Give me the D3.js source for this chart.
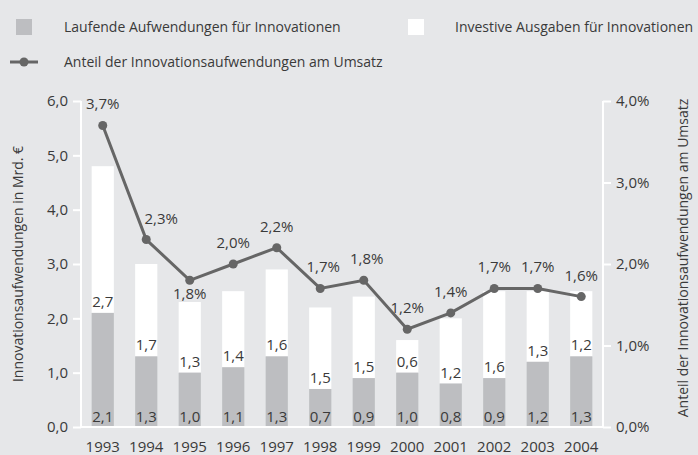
<!DOCTYPE html>
<html><head><meta charset="utf-8">
<script src="https://cdn.jsdelivr.net/npm/d3@7"></script>
<style>
html,body{margin:0;padding:0;background:#e6e7e9;}
text{font-family:"Open Sans",sans-serif;fill:#3a3a3a;}
</style></head>
<body><svg id="c" width="698" height="455"></svg>
<script>
const years = ["1993","1994","1995","1996","1997","1998","1999","2000","2001","2002","2003","2004"];
const laufende = [2.1,1.3,1.0,1.1,1.3,0.7,0.9,1.0,0.8,0.9,1.2,1.3];
const investive = [2.7,1.7,1.3,1.4,1.6,1.5,1.5,0.6,1.2,1.6,1.3,1.2];
const anteil = [3.7,2.3,1.8,2.0,2.2,1.7,1.8,1.2,1.4,1.7,1.7,1.6];
const leftTicks = [0,1,2,3,4,5,6];
const rightTicks = [0,1,2,3,4];
const labelBelow = ["1995"];

const fmt1 = v => v.toFixed(1).replace(".", ",");
const svg = d3.select("#c");
const W = 698, H = 455;
const NF = 15;
const labelShift = {"1994": 15, "1998": 3, "1999": 3};
svg.append("rect").attr("width",W).attr("height",H).attr("fill","#e6e7e9");

const x = d3.scaleBand().domain(years).range([81,603]).paddingInner(0.49).paddingOuter(0.245);
const y = d3.scaleLinear().domain([0,6]).range([427,101]);
const y2 = d3.scaleLinear().domain([0,4]).range([427,101]);

// bars
const g = svg.append("g");
years.forEach((yr,i)=>{
  const total = laufende[i]+investive[i];
  g.append("rect").attr("x",x(yr)).attr("width",x.bandwidth())
    .attr("y",y(total)).attr("height",y(laufende[i])-y(total)).attr("fill","#ffffff");
  g.append("rect").attr("x",x(yr)).attr("width",x.bandwidth())
    .attr("y",y(laufende[i])).attr("height",y(0)-y(laufende[i])).attr("fill","#bdbec1");
  g.append("text").attr("x",x(yr)+x.bandwidth()/2).attr("y",y(0)-5)
    .attr("text-anchor","middle").attr("font-size",NF).text(fmt1(laufende[i]));
  g.append("text").attr("x",x(yr)+x.bandwidth()/2).attr("y",y(laufende[i])-6)
    .attr("text-anchor","middle").attr("font-size",NF).text(fmt1(investive[i]));
});

// axes
const axL = svg.append("g").attr("transform","translate(81,0)")
  .call(d3.axisLeft(y).tickValues(leftTicks).tickFormat(fmt1).tickSize(8).tickPadding(5));
const axR = svg.append("g").attr("transform","translate(603,0)")
  .call(d3.axisRight(y2).tickValues(rightTicks).tickFormat(v=>fmt1(v)+"%").tickSize(8).tickPadding(5));
[axL,axR].forEach(a=>{
  a.select(".domain").remove();
  a.selectAll(".tick line").attr("stroke","#ffffff").attr("stroke-width",2);
  a.selectAll(".tick text").attr("font-size",NF).attr("fill","#3a3a3a").attr("font-family","Open Sans, sans-serif");
});
svg.append("line").attr("x1",81).attr("x2",81).attr("y1",101).attr("y2",428).attr("stroke","#fff").attr("stroke-width",2);
svg.append("line").attr("x1",603).attr("x2",603).attr("y1",101).attr("y2",428).attr("stroke","#fff").attr("stroke-width",2);
svg.append("line").attr("x1",80).attr("x2",604).attr("y1",427).attr("y2",427).attr("stroke","#fff").attr("stroke-width",2);

// x labels
const axB = svg.append("g").attr("transform","translate(0,427)")
  .call(d3.axisBottom(x).tickSize(0).tickPadding(14));
axB.select(".domain").remove();
axB.selectAll(".tick text").attr("font-size",NF).attr("fill","#3a3a3a").attr("font-family","Open Sans, sans-serif");

// line
const cx = yr => x(yr)+x.bandwidth()/2;
const line = d3.line().x((d,i)=>cx(years[i])).y(d=>y2(d));
svg.append("path").datum(anteil).attr("d",line).attr("fill","none")
  .attr("stroke","#666666").attr("stroke-width",3);
svg.selectAll("circle.pt").data(anteil).enter().append("circle")
  .attr("cx",(d,i)=>cx(years[i])).attr("cy",d=>y2(d)).attr("r",4.5).attr("fill","#666666");
svg.selectAll("text.pl").data(anteil).enter().append("text")
  .attr("x",(d,i)=>cx(years[i]) + (labelShift[years[i]] || 0))
  .attr("y",(d,i)=>labelBelow.includes(years[i]) ? y2(d)+19 : y2(d)-16)
  .attr("text-anchor","middle").attr("font-size",NF).text(d=>fmt1(d)+"%");

// axis titles
svg.append("text").attr("transform","translate(23,264) rotate(-90)").attr("text-anchor","middle")
  .attr("font-size",14).text("Innovationsaufwendungen in Mrd. €");
svg.append("text").attr("transform","translate(688,258) rotate(-90)").attr("text-anchor","middle")
  .attr("font-size",14).text("Anteil der Innovationsaufwendungen am Umsatz");

// legend
svg.append("rect").attr("x",16).attr("y",19).attr("width",16).attr("height",16).attr("fill","#bdbec1");
svg.append("text").attr("x",64).attr("y",32).attr("font-size",14).text("Laufende Aufwendungen für Innovationen");
svg.append("rect").attr("x",408).attr("y",19).attr("width",16).attr("height",16).attr("fill","#ffffff");
svg.append("text").attr("x",455).attr("y",32).attr("font-size",14).text("Investive Ausgaben für Innovationen");
svg.append("line").attr("x1",10).attr("x2",38).attr("y1",62).attr("y2",62).attr("stroke","#666666").attr("stroke-width",3);
svg.append("circle").attr("cx",24).attr("cy",62).attr("r",4.5).attr("fill","#666666");
svg.append("text").attr("x",64).attr("y",67).attr("font-size",14).text("Anteil der Innovationsaufwendungen am Umsatz");
</script></body></html>
